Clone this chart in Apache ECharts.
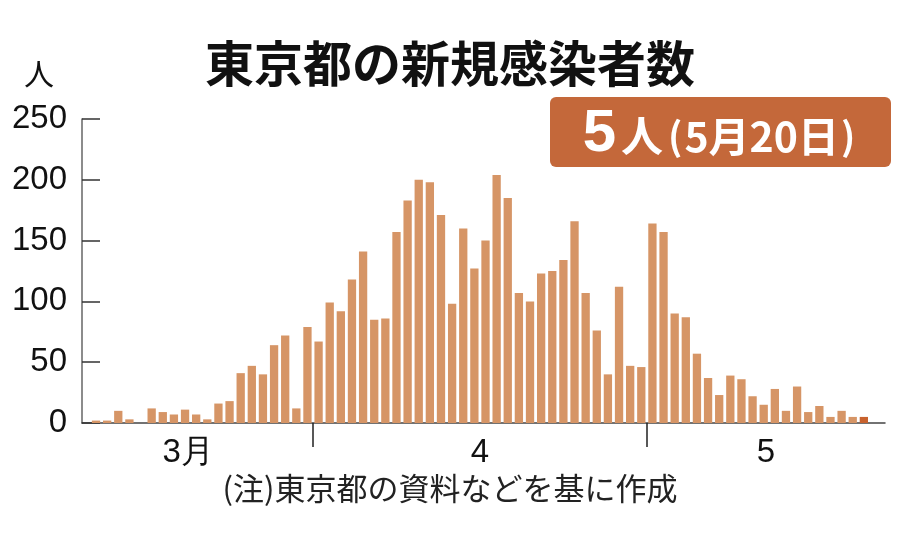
<!DOCTYPE html>
<html>
<head>
<meta charset="utf-8">
<script src="https://cdn.jsdelivr.net/npm/echarts@6/dist/echarts.min.js"></script>
<style>
html,body{margin:0;padding:0;background:#fff;}
#chart{width:900px;height:558px;}
</style>
</head>
<body>
<div id="chart"></div>
<script>
// ---- data ----
const days = [
  '3/12','3/13','3/14','3/15','3/16','3/17','3/18','3/19','3/20','3/21',
  '3/22','3/23','3/24','3/25','3/26','3/27','3/28','3/29','3/30','3/31',
  '4/1','4/2','4/3','4/4','4/5','4/6','4/7','4/8','4/9','4/10',
  '4/11','4/12','4/13','4/14','4/15','4/16','4/17','4/18','4/19','4/20',
  '4/21','4/22','4/23','4/24','4/25','4/26','4/27','4/28','4/29','4/30',
  '5/1','5/2','5/3','5/4','5/5','5/6','5/7','5/8','5/9','5/10',
  '5/11','5/12','5/13','5/14','5/15','5/16','5/17','5/18','5/19','5/20'
];
const cases = [
  2, 2, 10, 3, 0, 12, 9, 7, 11, 7,
  3, 16, 18, 41, 47, 40, 64, 72, 12, 79,
  67, 99, 92, 118, 141, 85, 86, 157, 183, 200,
  198, 171, 98, 160, 127, 150, 204, 185, 107, 100,
  123, 125, 134, 166, 107, 76, 40, 112, 47, 46,
  164, 157, 90, 87, 57, 37, 23, 39, 36, 22,
  15, 28, 10, 30, 9, 14, 5, 10, 5, 5
];
const yTicks = [0, 50, 100, 150, 200, 250];
const monthLabels = ['3月', '4', '5'];
// month boundaries (between 3/31|4/1 and 4/30|5/1)
const monthBoundaryDays = ['3/31', '4/30'];
const latestLabel = '5月20日';

// ---- build ----
const idx = d => days.indexOf(d);
const boundaries = monthBoundaryDays.map(d => idx(d) + 0.5);
const axisMin = -1.26, axisMax = days.length + 0.9;
const edges = [axisMin].concat(boundaries, [axisMax]);
const labelPos = [edges[0] + (edges[1] - edges[0]) * 0.46, (edges[1] + edges[2]) / 2, (edges[2] + edges[3]) / 2];

const BAR = '#d69566';
const LAST = '#c8622e';
const seriesData = cases.map((v, i) => ({
  value: [i, v],
  itemStyle: { color: i === cases.length - 1 ? LAST : BAR }
}));

const chart = echarts.init(document.getElementById('chart'), null, { renderer: 'canvas' });
const latest = cases[cases.length - 1];

chart.setOption({
  animation: false,
  backgroundColor: '#fff',
  grid: { left: 82, right: 15, top: 119, bottom: 135, containLabel: false },
  title: [
    {
      text: '東京都の新規感染者数',
      left: 'center', top: 34,
      textStyle: { fontFamily: 'Noto Sans CJK JP', fontWeight: 'bold', fontSize: 49, color: '#111' }
    },
    {
      text: '(注)東京都の資料などを基に作成',
      left: 'center', top: 468,
      textStyle: { fontFamily: 'Noto Sans CJK JP', fontWeight: 'normal', fontSize: 31, color: '#222' }
    }
  ],
  xAxis: {
    type: 'value',
    min: axisMin, max: axisMax,
    splitLine: { show: false },
    axisLine: { show: true, onZero: false, lineStyle: { color: '#444', width: 1.5 } },
    axisTick: { show: true, customValues: boundaries, length: 24, inside: false, lineStyle: { color: '#222', width: 1.5 } },
    axisLabel: {
      show: true,
      customValues: labelPos,
      formatter: (v) => {
        let best = 0;
        labelPos.forEach((p, i) => { if (Math.abs(p - v) < Math.abs(labelPos[best] - v)) best = i; });
        return monthLabels[best];
      },
      margin: 13,
      fontFamily: 'Liberation Sans',
      fontSize: 33, color: '#111'
    }
  },
  yAxis: {
    type: 'value',
    min: 0, max: 250, interval: 50,
    name: '人',
    nameLocation: 'end',
    nameGap: 30,
    nameTextStyle: { fontFamily: 'Noto Sans CJK JP', fontSize: 30, color: '#111', align: 'center', padding: [0, 0, 0, -86] },
    splitLine: { show: false },
    axisLine: { show: true, onZero: false, lineStyle: { color: '#666', width: 1.5 } },
    axisTick: { show: true, inside: true, length: 18, lineStyle: { color: '#333', width: 1.5 } },
    axisLabel: {
      margin: 15,
      fontFamily: 'Liberation Sans',
      fontSize: 33, color: '#111',
      formatter: v => yTicks.includes(v) ? String(v) : ''
    }
  },
  series: [{
    type: 'bar',
    data: seriesData,
    barWidth: 8.3,
    silent: true
  }],
  graphic: [{
    type: 'group',
    children: [
      {
        type: 'rect',
        shape: { x: 550, y: 97, width: 341, height: 70, r: 6 },
        style: { fill: '#c4683a' }
      },
      {
        type: 'text',
        x: 720, y: 134,
        style: {
          text: '{a|' + latest + '}{b|人}{p|(}{c|' + latestLabel + '}{p|)}',
          align: 'center', verticalAlign: 'middle',
          rich: {
            a: { fontFamily: 'Liberation Sans', fontWeight: 'bold', fontSize: 60, fill: '#fff', padding: [0, 5, 0, 0] },
            b: { fontFamily: 'Noto Sans CJK JP', fontWeight: 'bold', fontSize: 42, fill: '#fff', padding: [4, 3, 0, 0] },
            p: { fontFamily: 'Noto Sans CJK JP', fontWeight: 'bold', fontSize: 38, fill: '#fff', padding: [4, 2, 0, 2] },
            c: { fontFamily: 'Noto Sans CJK JP', fontWeight: 'bold', fontSize: 41, fill: '#fff', padding: [4, 0, 0, 0] }
          }
        }
      }
    ]
  }]
});
</script>
</body>
</html>
